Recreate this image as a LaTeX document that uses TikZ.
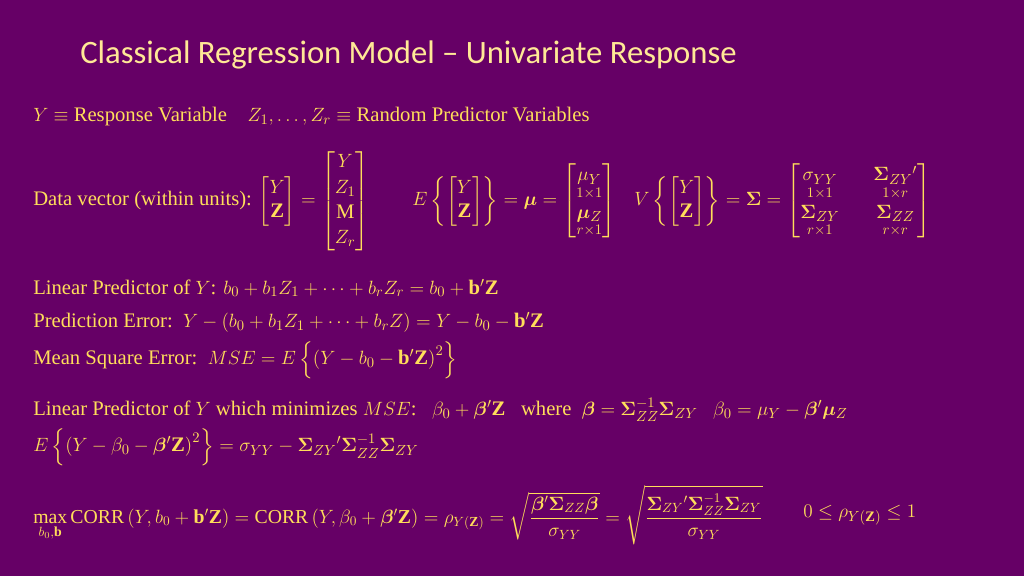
\documentclass[tikz,border=0pt]{standalone}
\usepackage{amsmath,amssymb,bm}
\usepackage{fontspec}
\setmainfont{Liberation Serif}
\newfontfamily\titlefont{Carlito}
\definecolor{bg}{RGB}{102,0,102}
\definecolor{tx}{RGB}{255,222,90}
\definecolor{tt}{RGB}{255,232,150}
\begin{document}
\begin{tikzpicture}[x=0.75pt,y=-0.75pt,
  ln/.style={anchor=west,inner sep=0pt,text=tx,font=\fontsize{15.5}{18}\selectfont}]
\fill[bg] (0,0) rectangle (1024,576);
\useasboundingbox (0,0) rectangle (1024,576);
\node[anchor=west,inner sep=0pt,text=tt,font=\titlefont\fontsize{24.5}{28}\selectfont] (title) at (80,55) {Classical Regression Model – Univariate Response};
\node[ln] (l1) at (33,117) {$Y\equiv$ Response Variable\quad $Z_1,\dots,Z_r\equiv$ Random Predictor Variables};
\node[ln] (l2) at (33,201) {Data vector (within units): $\begin{bmatrix}Y\\ \mathbf{Z}\end{bmatrix}=\begin{bmatrix}Y\\[1pt] Z_1\\[1pt] \text{M}\\[1pt] Z_r\end{bmatrix}$};
\node[ln] (l2b) at (412,201) {$E\left\{\begin{bmatrix}Y\\ \mathbf{Z}\end{bmatrix}\right\}=\bm{\mu}=\begin{bmatrix}\underset{1\times1}{\mu_Y}\\[10pt] \underset{r\times1}{\bm{\mu}_Z}\end{bmatrix}$};
\node[ln] (l2c) at (634,201) {$V\left\{\begin{bmatrix}Y\\ \mathbf{Z}\end{bmatrix}\right\}=\bm{\Sigma}=\begin{bmatrix}\underset{1\times1}{\sigma_{YY}} & \quad\underset{1\times r}{\bm{\Sigma}_{ZY}{}'}\\[10pt] \underset{r\times1}{\bm{\Sigma}_{ZY}} & \quad\underset{r\times r}{\bm{\Sigma}_{ZZ}}\end{bmatrix}$};
\node[ln] (l3) at (33,288) {Linear Predictor of $Y$: $b_0+b_1Z_1+\dots+b_rZ_r=b_0+\mathbf{b'Z}$};
\node[ln] (l4) at (33,322) {Prediction Error:\ \ $Y-\left(b_0+b_1Z_1+\dots+b_rZ\right)=Y-b_0-\mathbf{b'Z}$};
\node[ln] (l5) at (33,360) {Mean Square Error:\ \ $MSE=E\left\{\left(Y-b_0-\mathbf{b'Z}\right)^2\right\}$};
\node[ln] (l6) at (33,410) {Linear Predictor of $Y$ which minimizes $MSE$:\ \ \ $\beta_0+\bm{\beta}'\mathbf{Z}$\ \ \ where\ \ $\bm{\beta}=\bm{\Sigma}_{ZZ}^{-1}\bm{\Sigma}_{ZY}$\ \ \ $\beta_0=\mu_Y-\bm{\beta}'\bm{\mu}_Z$};
\node[ln] (l7) at (33,447) {$E\left\{\left(Y-\beta_0-\bm{\beta}'\mathbf{Z}\right)^2\right\}=\sigma_{YY}-\bm{\Sigma}_{ZY}{}'\bm{\Sigma}_{ZZ}^{-1}\bm{\Sigma}_{ZY}$};
\node[ln,font=\fontsize{14.8}{18}\selectfont] (l8) at (33,515) {$\max\limits_{b_0,\mathbf{b}}\mathrm{CORR}\left(Y,b_0+\mathbf{b'Z}\right)=\mathrm{CORR}\left(Y,\beta_0+\bm{\beta}'\mathbf{Z}\right)=\rho_{Y(\mathbf{Z})}=\sqrt{\dfrac{\bm{\beta}'\bm{\Sigma}_{ZZ}\bm{\beta}}{\sigma_{YY}}}=\sqrt{\dfrac{\bm{\Sigma}_{ZY}{}'\bm{\Sigma}_{ZZ}^{-1}\bm{\Sigma}_{ZY}}{\sigma_{YY}}}$};
\node[ln] (l9) at (803,515) {$0\le\rho_{Y(\mathbf{Z})}\le1$};
\end{tikzpicture}
\end{document}
